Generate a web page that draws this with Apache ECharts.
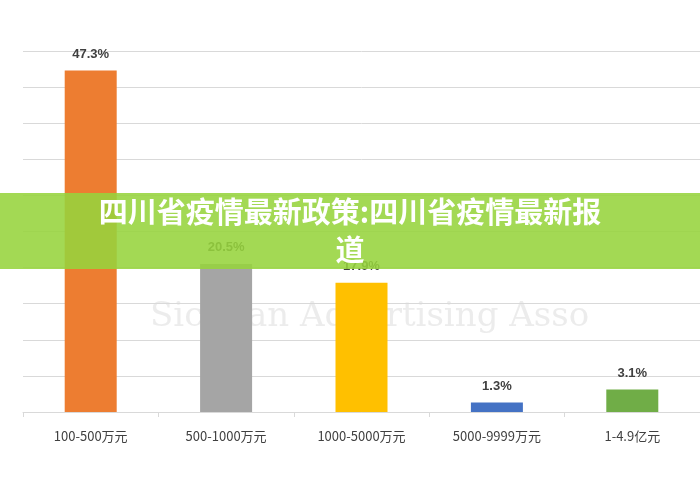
<!DOCTYPE html>
<html><head><meta charset="utf-8">
<script src="https://cdn.jsdelivr.net/npm/echarts@6/dist/echarts.min.js"></script>
<style>html,body{margin:0;padding:0;background:#fff}#c{width:700px;height:490px}</style>
</head><body><div id="c"></div>
<script>
const categories = ['100-500万元','500-1000万元','1000-5000万元','5000-9999万元','1-4.9亿元'];
const values = [47.3, 20.5, 17.9, 1.3, 3.1];
const colors = ['#ED7D31','#A5A5A5','#FFC000','#4472C4','#70AD47'];
const title = '四川省疫情最新政策:四川省疫情最新报\n道';
const chart = echarts.init(document.getElementById('c'));
chart.setOption({
  animation:false,
  grid:{left:23,right:-13,top:51,bottom:78,containLabel:false},
  xAxis:{type:'category',data:categories,
    axisLine:{lineStyle:{color:'#d9d9d9'}},
    axisTick:{show:true,lineStyle:{color:'#d9d9d9'}},
    axisLabel:{color:'#404040',fontSize:13,margin:18,fontFamily:'Liberation Sans Narrow, Noto Sans CJK SC'}},
  yAxis:{type:'value',min:0,max:50,interval:5,axisLabel:{show:false},axisLine:{show:false},axisTick:{show:false},
    splitLine:{lineStyle:{color:'#d9d9d9'}}},
  series:[{type:'bar',barWidth:52,
    data:values.map((v,i)=>({value:v,itemStyle:{color:colors[i]}})),
    label:{show:true,position:'top',formatter:p=>p.value+'%',color:'#404040',fontWeight:'bold',fontSize:13,distance:10}}],
  graphic:[
    {type:'text',left:150,top:300,z:-1,silent:true,style:{text:'Sichuan Advertising Asso',fontSize:34,fill:'rgba(200,200,200,0.35)',fontFamily:'DejaVu Serif'}},
    {type:'rect',z:100,shape:{x:0,y:193,width:700,height:76},style:{fill:'rgba(150,212,60,0.88)'},silent:true},
    {type:'text',z:101,x:350,y:231,style:{text:title,fill:'#fff',fontSize:29,fontWeight:'bold',lineHeight:38,
      align:'center',verticalAlign:'middle',fontFamily:'Noto Sans CJK SC'},silent:true}
  ]
});
</script></body></html>
